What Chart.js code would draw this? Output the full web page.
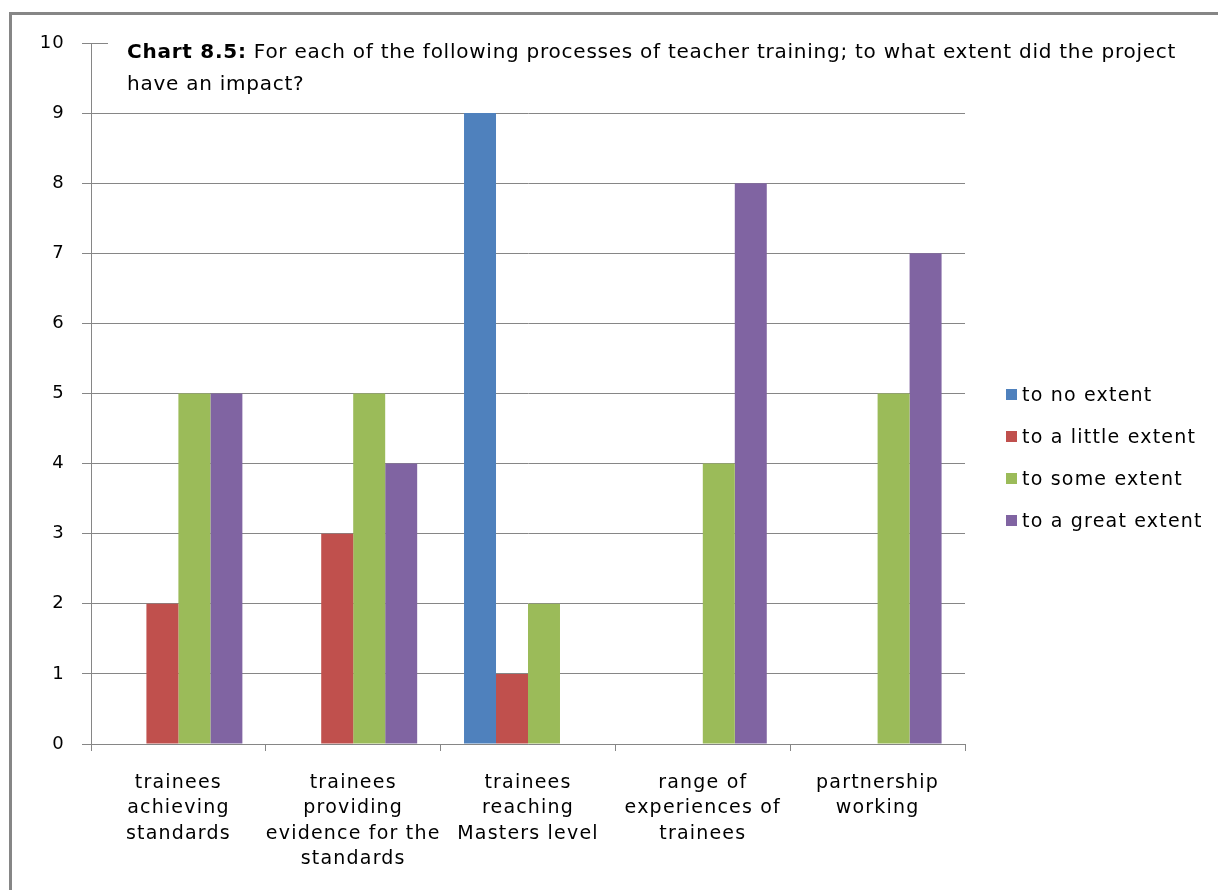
<!DOCTYPE html>
<html>
<head>
<meta charset="utf-8">
<script src="https://cdn.jsdelivr.net/npm/chart.js@4/dist/chart.umd.min.js"></script>
<style>
html,body{margin:0;padding:0;background:#fff;}
#wrap{position:relative;width:1218px;height:890px;}
canvas{display:block;}
</style>
</head>
<body>
<div id="wrap"><canvas id="c" width="1218" height="890"></canvas></div>
<script>
const categories = [
  ["trainees","achieving","standards"],
  ["trainees","providing","evidence for the","standards"],
  ["trainees","reaching","Masters level"],
  ["range of","experiences of","trainees"],
  ["partnership","working"]
];
const seriesNames = ["to no extent","to a little extent","to some extent","to a great extent"];
const noExtent = [0, 0, 9, 0, 0];
const littleExtent = [2, 3, 1, 0, 0];
const someExtent = [5, 5, 2, 4, 5];
const greatExtent = [5, 4, 0, 8, 7];
const colors = ["#4F81BD","#C0504D","#9BBB59","#8064A2"];
const titleBold = "Chart 8.5:";
const titleLine1 = " For each of the following processes of teacher training; to what extent did the project";
const titleLine2 = "have an impact?";

const FONT = "'DejaVu Sans', Verdana, sans-serif";
const gridColor = "#868686";

const bgPlugin = {
  id: 'bg',
  beforeDraw(chart) {
    const ctx = chart.ctx;
    ctx.fillStyle = '#fff';
    ctx.fillRect(0, 0, chart.width, chart.height);
    ctx.letterSpacing = '1.2px';
  },
  afterDraw(chart) {
    const ctx = chart.ctx;
    ctx.save();
    // outer border (left and top)
    ctx.fillStyle = '#868686';
    ctx.fillRect(9, 12, 1218 - 9, 3);
    ctx.fillRect(9, 12, 3, 890 - 12);
    // title box
    ctx.fillStyle = '#fff';
    ctx.fillRect(108, 30, 1100, 68);
    ctx.fillStyle = '#000';
    ctx.textBaseline = 'middle';
    ctx.textAlign = 'left';
    ctx.letterSpacing = '0.75px';
    ctx.font = "bold 20px " + FONT;
    ctx.fillText(titleBold, 127, 53);
    const w = ctx.measureText(titleBold).width;
    ctx.font = "20px " + FONT;
    ctx.fillText(titleLine1, 127 + w, 53);
    ctx.fillText(titleLine2, 127, 85);
    // legend
    ctx.letterSpacing = '1.2px';
    const lx = 1006, ly0 = 394, gap = 42;
    seriesNames.forEach((n, i) => {
      const y = ly0 + i * gap;
      ctx.fillStyle = colors[i];
      ctx.fillRect(lx, y - 5, 11, 11);
      ctx.fillStyle = '#000';
      ctx.font = "19px " + FONT;
      ctx.fillText(n, lx + 16, y + 2);
    });
    ctx.restore();
  }
};

const seriesData = [noExtent, littleExtent, someExtent, greatExtent];

new Chart(document.getElementById('c'), {
  type: 'bar',
  data: {
    labels: categories,
    datasets: seriesNames.map((n, i) => ({
      label: n,
      data: seriesData[i],
      backgroundColor: colors[i],
      borderWidth: 0,
      barPercentage: 1,
      categoryPercentage: 0.732
    }))
  },
  options: {
    responsive: false,
    animation: false,
    devicePixelRatio: 1,
    layout: { padding: { top: 43, right: 253, left: 0, bottom: 0 } },
    plugins: { legend: { display: false }, title: { display: false }, tooltip: { enabled: false } },
    scales: {
      x: {
        grid: { offset: true, drawOnChartArea: false, drawTicks: true, tickLength: 7, color: gridColor, lineWidth: 1 },
        border: { display: true, color: gridColor, width: 1 },
        ticks: { color: '#000', font: { family: FONT, size: 19, lineHeight: 1.34 }, padding: 19, maxRotation: 0, autoSkip: false },
        afterFit(scale) { scale.height = 146; }
      },
      y: {
        min: 0, max: 10,
        grid: { color: gridColor, lineWidth: 1, drawTicks: true, tickLength: 9 },
        border: { display: true, color: gridColor, width: 1 },
        ticks: { stepSize: 1, color: '#000', font: { family: FONT, size: 18 }, padding: 17 },
        afterFit(scale) { scale.width = 91; }
      }
    }
  },
  plugins: [bgPlugin]
});
</script>
</body>
</html>
